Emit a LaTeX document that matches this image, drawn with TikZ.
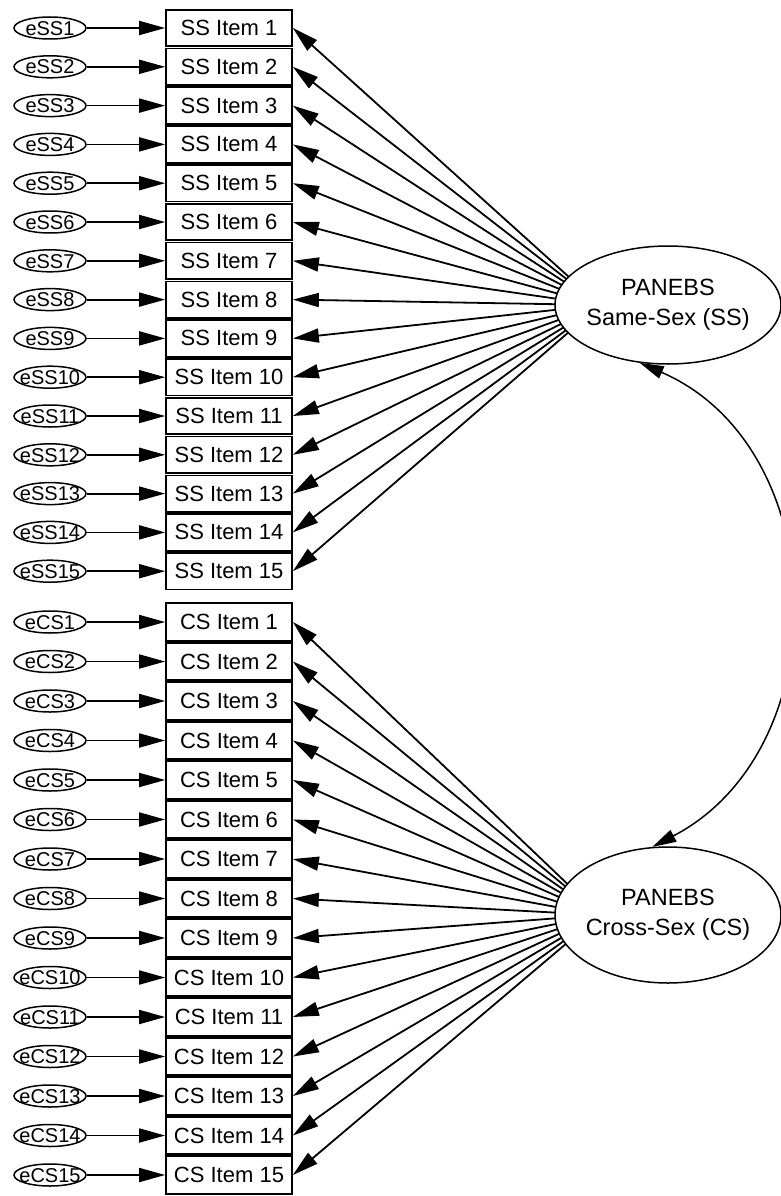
\documentclass[tikz,border=0pt]{standalone}
\usepackage{fontspec}
\setmainfont{Liberation Sans}
\usetikzlibrary{shapes.geometric,arrows.meta}
\newcommand{\errname}[1]{\makebox[0pt]{\smash{\raisebox{-.36em}{#1}}}}

\begin{document}
\begin{tikzpicture}[
		x=1pt, y=-1pt,
		item/.style={
			draw,
			rectangle,
			line width=1.7pt,
			minimum width=126pt,
			minimum height=36.5pt,
			inner sep=0pt,
			font=\fontsize{22}{26}\selectfont
		},
		err/.style={
			draw,
			ellipse,
			line width=1.5pt,
			minimum width=72pt,
			minimum height=22pt,
			inner sep=0pt,
			font=\fontsize{20}{24}\selectfont
		},
		latent/.style={
			draw,
			fill=white,
			ellipse,
			line width=1.5pt,
			minimum width=226pt,
			inner xsep=-8pt,
			inner ysep=0pt,
			align=center,
			font=\fontsize{23.5}{30}\selectfont
		},
		resid/.style={line width=1.8pt, -{Triangle[length=26pt, width=14pt]}},
		load/.style={line width=1.8pt, -{Triangle[length=26pt, width=14pt]}},
		cov/.style={line width=1.5pt, {Triangle[length=24pt, width=13pt]}-{Triangle[length=24pt, width=13pt]}}
		]
		
		\useasboundingbox (0,0) rectangle (781,1196);
		
		\coordinate (SSfocus) at (600,305);
		\coordinate (CSfocus) at (600,915);
		
		\foreach \i in {1,...,15} {
			\node[item] (ss\i) at (229,{28+(\i-1)*38.8}) {SS Item \i};
			\node[err] (ess\i) at (50,{28+(\i-1)*38.8}) {\errname{eSS\i}};
			\draw[resid] (ess\i) -- (ss\i);
			\draw[load] (SSfocus) -- (ss\i.east);
			
			\node[item, minimum height=37.5pt] (cs\i) at (229,{622+(\i-1)*39.5}) {CS Item \i};
			\node[err] (ecs\i) at (50,{622+(\i-1)*39.5}) {\errname{eCS\i}};
			\draw[resid] (ecs\i) -- (cs\i);
			\draw[load] (CSfocus) -- (cs\i.east);
		}
		
		\node[latent, minimum height=118pt] (SS) at (668,305) {PANEBS\\Same-Sex (SS)};
		\node[latent, minimum height=136pt] (CS) at (668,915) {PANEBS\\Cross-Sex (CS)};
		
		\draw[cov] (SS.244) .. controls (834,447) and (840,749) .. (CS.103);
		
	\end{tikzpicture}
\end{document}
